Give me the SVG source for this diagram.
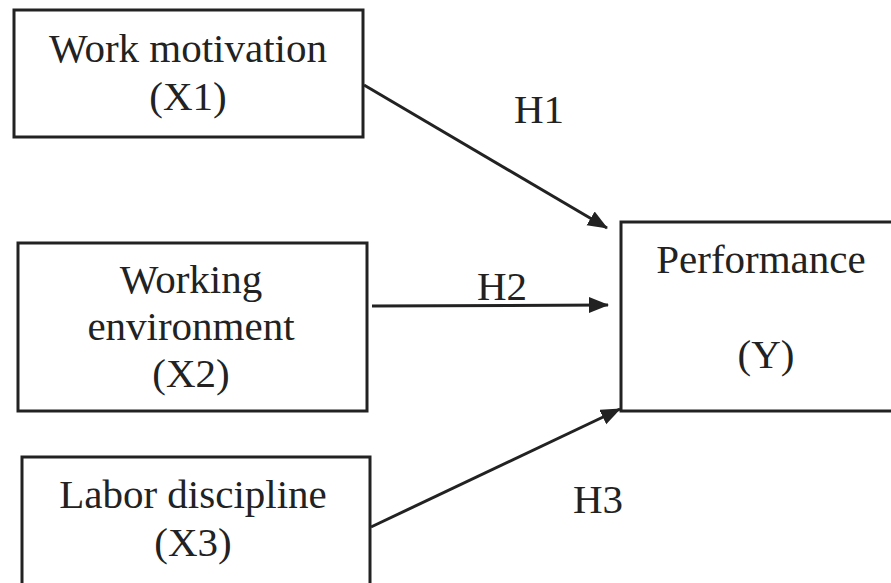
<svg xmlns="http://www.w3.org/2000/svg" width="891" height="583" viewBox="0 0 891 583">
<style>
.box{fill:#fff;stroke:#222;stroke-width:3}
.t{font-family:"Liberation Serif","Times New Roman",serif;font-size:41px;fill:#222;text-anchor:middle}
.c{stroke:#222;stroke-width:3;fill:none}
</style>
<defs>
<marker id="ah" markerUnits="userSpaceOnUse" markerWidth="20" markerHeight="18" refX="19" refY="8" orient="auto">
<path d="M0,0 L20,8 L0,16 z" fill="#222"/>
</marker>
</defs>
<rect width="891" height="583" fill="#fff"/>
<g id="x1">
<rect class="box" x="14" y="10" width="349" height="127"/>
<text class="t" x="188" y="62">Work motivation</text>
<text class="t" x="188" y="110">(X1)</text>
</g>
<g id="x2">
<rect class="box" x="18" y="243" width="349" height="168"/>
<text class="t" x="191" y="293">Working</text>
<text class="t" x="191" y="340">environment</text>
<text class="t" x="191" y="387">(X2)</text>
</g>
<g id="x3">
<rect class="box" x="22" y="457" width="348" height="160"/>
<text class="t" x="193" y="508">Labor discipline</text>
<text class="t" x="193" y="556">(X3)</text>
</g>
<g id="y">
<rect class="box" x="621" y="222" width="300" height="189"/>
<text class="t" x="761" y="273">Performance</text>
<text class="t" x="766" y="368">(Y)</text>
</g>
<g id="connectors">
<line class="c" x1="364" y1="85" x2="607" y2="228" marker-end="url(#ah)"/>
<line class="c" x1="372" y1="306" x2="608" y2="305" marker-end="url(#ah)"/>
<line class="c" x1="371" y1="527" x2="620" y2="409" marker-end="url(#ah)"/>
<text class="t" x="539" y="123">H1</text>
<text class="t" x="502" y="300">H2</text>
<text class="t" x="598" y="513">H3</text>
</g>
</svg>
